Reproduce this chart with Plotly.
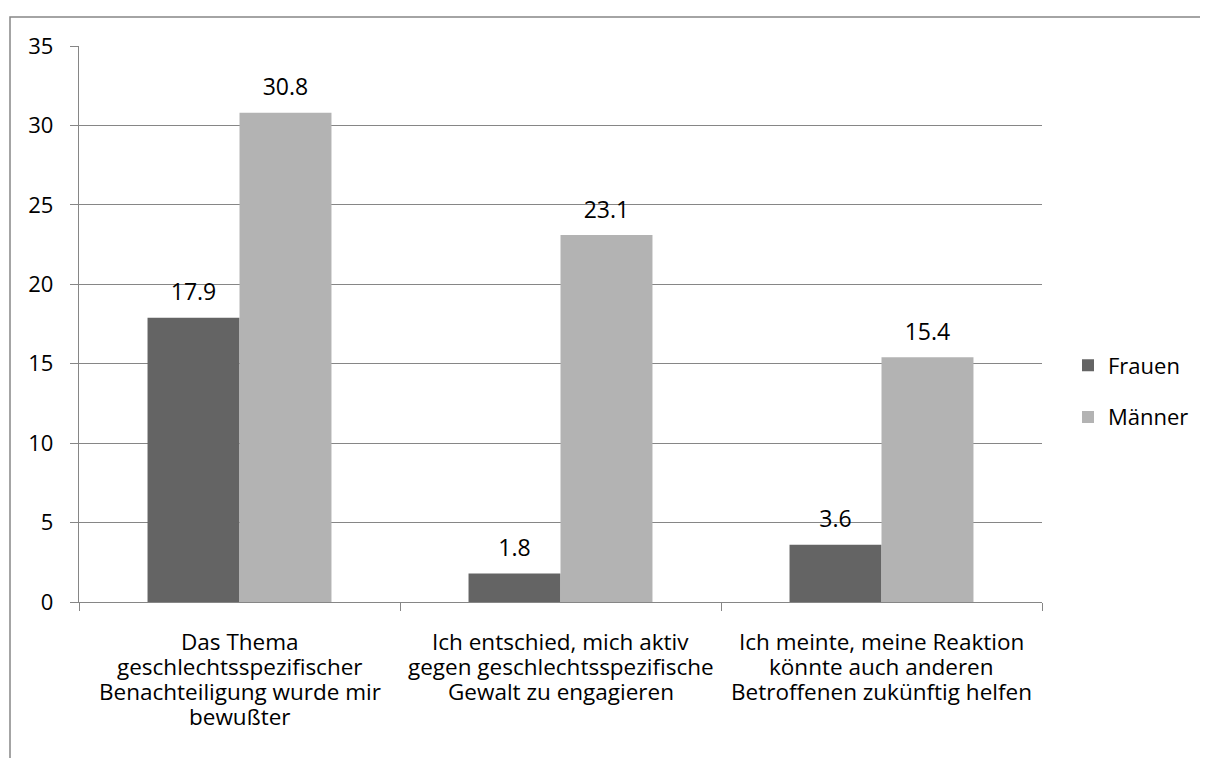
import plotly.graph_objects as go

categories = [
    "Das Thema<br>geschlechtsspezifischer<br>Benachteiligung wurde mir<br>bewußter",
    "Ich entschied, mich aktiv<br>gegen geschlechtsspezifische<br>Gewalt zu engagieren",
    "Ich meinte, meine Reaktion<br>könnte auch anderen<br>Betroffenen zukünftig helfen",
]
series_names = ["Frauen", "Männer"]
frauen = [17.9, 1.8, 3.6]
maenner = [30.8, 23.1, 15.4]

FONT = "Open Sans, Noto Sans, sans-serif"
GRID = "#868686"
COLORS = ["#646464", "#b3b3b3"]

fig = go.Figure()
for name, vals, col in zip(series_names, [frauen, maenner], COLORS):
    fig.add_trace(go.Bar(
        name=name, x=categories, y=vals, marker_color=col,
        marker_line_width=0, legendgroup=name, offsetgroup=name,
        hoverinfo="x+y",
    ))
# value labels, grouped like the bars, lifted above the bar tops
for name, vals in zip(series_names, [frauen, maenner]):
    fig.add_trace(go.Scatter(
        x=categories, y=vals, mode="markers+text",
        text=[f"{v:.1f}" for v in vals], textposition="top center",
        textfont=dict(size=23, color="#000000", family=FONT),
        marker=dict(size=17, color="rgba(0,0,0,0)"),
        offsetgroup=name, showlegend=False, cliponaxis=False,
        hoverinfo="skip",
    ))

# body margin of 8px in the generated page
W, H = 1200, 750
L, R, T, B = 71, 166, 38, 156
pw = W - L - R
ph = H - T - B

annotations = []
for cat in categories:
    for i, line in enumerate(cat.split("<br>")):
        annotations.append(dict(
            x=cat, xref="x", y=0, yref="paper", text=line,
            showarrow=False, yanchor="middle", xanchor="center",
            yshift=-39 - 25 * i,
            font=dict(size=22.5, family=FONT, color="#000000"),
        ))

fig.update_layout(
    width=W, height=H,
    margin=dict(l=L, r=R, t=T, b=B),
    paper_bgcolor="white", plot_bgcolor="white",
    font=dict(family=FONT, size=22, color="#000000"),
    barmode="group", bargap=0.427, bargroupgap=0,
    scattermode="group", scattergap=0.427,
    showlegend=True,
    legend=dict(
        x=(1060 - L) / pw, y=(H - B - 383.5) / ph,
        xanchor="left", yanchor="middle",
        font=dict(size=22), tracegroupgap=20, traceorder="grouped",
        itemwidth=30,
    ),
    xaxis=dict(
        type="category", showgrid=False, showline=True, linecolor=GRID,
        linewidth=1.3, ticks="outside", tickson="boundaries", ticklen=8,
        tickcolor=GRID, showticklabels=False,
    ),
    yaxis=dict(
        range=[0, 35], dtick=5, showgrid=True, gridcolor=GRID, gridwidth=1.3,
        showline=True, linecolor=GRID, linewidth=1.3, ticks="outside",
        ticklen=8, tickcolor=GRID, tickfont=dict(size=22),
        ticklabelstandoff=12, zeroline=False,
    ),
    annotations=annotations,
    shapes=[dict(
        type="rect", xref="paper", yref="paper",
        x0=(2 - L) / pw, x1=(1400 - L) / pw,
        y0=(H - B - 1000) / ph, y1=(H - B - 9) / ph,
        line=dict(color=GRID, width=1.5), fillcolor="rgba(0,0,0,0)",
        layer="below",
    )],
)

fig.write_html("out.html")
